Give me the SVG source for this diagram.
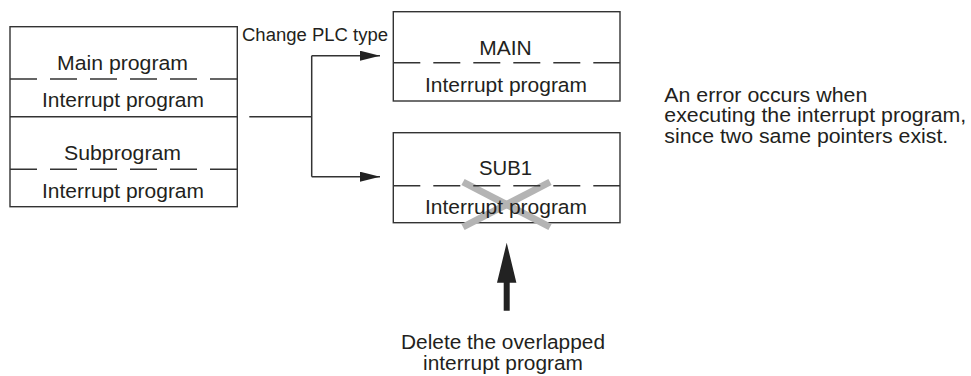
<svg xmlns="http://www.w3.org/2000/svg" width="971" height="376" viewBox="0 0 971 376">
<style>
.box{fill:#fff;stroke:#333;stroke-width:1.4}
.solid{stroke:#333;stroke-width:1.4;fill:none}
.dash{stroke:#333;stroke-width:1.4;fill:none;stroke-dasharray:27 13}
.t{font-family:"Liberation Sans",Arial,sans-serif;font-size:20.5px;fill:#231f20}
.s{font-family:"Liberation Sans",Arial,sans-serif;font-size:18px;fill:#231f20}
.conn{stroke:#333;stroke-width:1.5;fill:none}
.xmark{stroke:#b4b4b4;stroke-width:7;fill:none}
</style>
<defs>
<marker id="ah" markerWidth="20" markerHeight="10" refX="20" refY="5" orient="auto" markerUnits="userSpaceOnUse">
<path d="M0,0 L20,5 L0,10 Z" fill="#222"/>
</marker>
</defs>
<rect width="971" height="376" fill="#fff"/>

<g id="left-box">
<rect class="box" x="10" y="26.7" width="227.3" height="180"/>
<line class="dash" x1="10" y1="79" x2="237.3" y2="79"/>
<line class="solid" x1="10" y1="116.7" x2="237.3" y2="116.7"/>
<line class="dash" x1="10" y1="169.3" x2="237.3" y2="169.3"/>
<text class="t" x="57" y="69.5" textLength="131" lengthAdjust="spacingAndGlyphs">Main program</text>
<text class="t" x="42" y="107.2" textLength="162" lengthAdjust="spacingAndGlyphs">Interrupt program</text>
<text class="t" x="64" y="159.5" textLength="117" lengthAdjust="spacingAndGlyphs">Subprogram</text>
<text class="t" x="42" y="197.5" textLength="162" lengthAdjust="spacingAndGlyphs">Interrupt program</text>
</g>

<g id="change-label">
<text class="s" x="242" y="40.5" textLength="146" lengthAdjust="spacingAndGlyphs">Change PLC type</text>
</g>

<g id="connectors">
<polyline class="conn" points="249.3,116.7 311.7,116.7"/>
<polyline class="conn" points="311.7,55.7 311.7,176.7"/>
<line class="conn" x1="311.7" y1="55.7" x2="380" y2="55.7" marker-end="url(#ah)"/>
<line class="conn" x1="311.7" y1="176.7" x2="380" y2="176.7" marker-end="url(#ah)"/>
</g>

<g id="main-box">
<rect class="box" x="393.3" y="11.7" width="226.7" height="89.3"/>
<line class="dash" x1="393.3" y1="62.7" x2="620" y2="62.7"/>
<text class="t" x="479.3" y="54.5" textLength="52.4" lengthAdjust="spacingAndGlyphs">MAIN</text>
<text class="t" x="425" y="92" textLength="162" lengthAdjust="spacingAndGlyphs">Interrupt program</text>
</g>

<g id="sub1-box">
<rect class="box" x="393.3" y="132.7" width="226.7" height="90"/>
<line class="xmark" x1="463" y1="182" x2="550" y2="227"/>
<line class="xmark" x1="550" y1="182" x2="463" y2="227"/>
<line class="dash" x1="393.3" y1="185.7" x2="620" y2="185.7"/>
<text class="t" x="479" y="175.3" textLength="53" lengthAdjust="spacingAndGlyphs">SUB1</text>
<text class="t" x="425" y="214.3" textLength="162" lengthAdjust="spacingAndGlyphs">Interrupt program</text>
</g>

<g id="delete-arrow">
<path d="M506.7,242.7 L516.4,282.7 L509.7,282.7 L509.7,310.7 L503.7,310.7 L503.7,282.7 L497,282.7 Z" fill="#222"/>
</g>

<g id="delete-label">
<text class="t" x="401" y="349" textLength="204" lengthAdjust="spacingAndGlyphs">Delete the overlapped</text>
<text class="t" x="423" y="369.5" textLength="160" lengthAdjust="spacingAndGlyphs">interrupt program</text>
</g>

<g id="error-note">
<text class="t" x="664.3" y="101.7" textLength="203" lengthAdjust="spacingAndGlyphs">An error occurs when</text>
<text class="t" x="664.3" y="122.2" textLength="302" lengthAdjust="spacingAndGlyphs">executing the interrupt program,</text>
<text class="t" x="664.3" y="142.7" textLength="284" lengthAdjust="spacingAndGlyphs">since two same pointers exist.</text>
</g>
</svg>
